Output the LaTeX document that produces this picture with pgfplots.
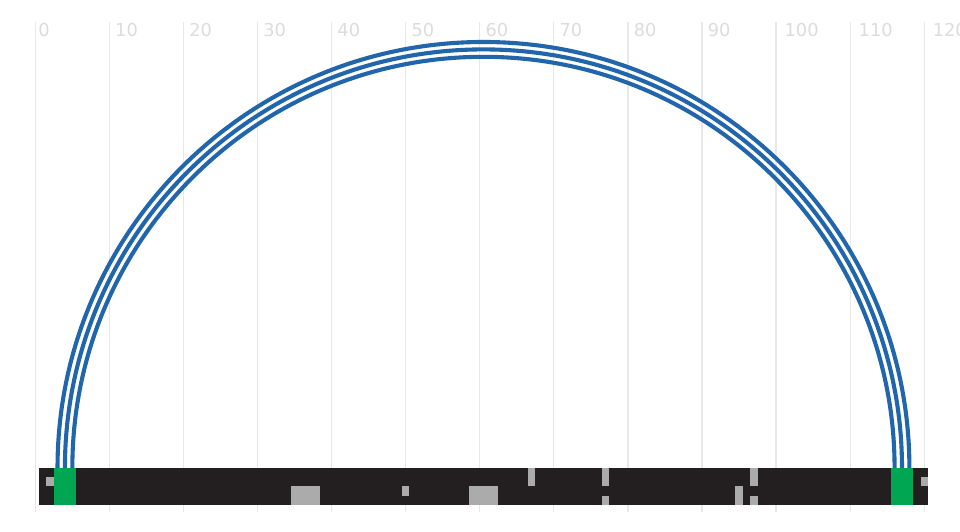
\documentclass[border=0pt]{standalone}
\usepackage{pgfplots}
\pgfplotsset{compat=1.18}
\usepackage{fontspec}
\setmainfont{DejaVu Sans}
\definecolor{arcblue}{RGB}{33,102,172}
\definecolor{cellgreen}{RGB}{0,166,81}
\definecolor{cellblack}{RGB}{35,31,32}
\definecolor{cellgray}{RGB}{171,171,171}
\definecolor{gridc}{RGB}{232,232,232}
\definecolor{labc}{RGB}{220,220,220}
% rectangle cell: x0, x1, y0, y1, colour
\newcommand{\cell}[5]{\addplot[fill=#5, draw=none] coordinates {(#1,#3) (#2,#3) (#2,#4) (#1,#4)} -- cycle;}
\begin{document}
\begin{tikzpicture}
\begin{axis}[
  scale only axis,
  width=480pt, height=244.96pt,
  xmin=-4.765, xmax=124.83,
  ymin=-5.94, ymax=60.2,
  axis line style={draw=none},
  major tick length=0pt,
  xtick={0,10,...,120},
  ytick=\empty,
  xmajorgrids,
  grid style={color=gridc, line width=0.6pt},
  xticklabel pos=upper,
  xticklabel={\setbox0=\hbox{\pgfmathprintnumber{\tick}}\hspace*{0.24\wd0}\box0},
  xticklabel style={anchor=north west, inner sep=0pt, xshift=0pt, yshift=-0.5pt,
    font=\fontsize{8.9}{10}\selectfont, text=labc},
  /pgf/number format/assume math mode=true,
  clip=false,
]
% arcs (start, end) on the track
\draw[arcblue, line width=2.05pt] (axis cs:3,0) arc[start angle=180, end angle=0, radius=57.5];
\draw[arcblue, line width=2.05pt] (axis cs:4,0) arc[start angle=180, end angle=0, radius=56.5];
\draw[arcblue, line width=2.05pt] (axis cs:5,0) arc[start angle=180, end angle=0, radius=55.5];
% track
\cell{0.5}{120.5}{0}{-5}{cellblack}
\cell{1.5}{2.5}{-1.25}{-2.5}{cellgray}
\cell{34.5}{38.5}{-2.5}{-5}{cellgray}
\cell{49.5}{50.5}{-2.5}{-3.75}{cellgray}
\cell{58.5}{62.5}{-2.5}{-5}{cellgray}
\cell{66.5}{67.5}{0}{-2.5}{cellgray}
\cell{76.5}{77.5}{0}{-2.5}{cellgray}
\cell{76.5}{77.5}{-3.75}{-5}{cellgray}
\cell{94.5}{95.5}{-2.5}{-5}{cellgray}
\cell{96.5}{97.5}{0}{-2.5}{cellgray}
\cell{96.5}{97.5}{-3.75}{-5}{cellgray}
\cell{119.5}{120.5}{-1.25}{-2.5}{cellgray}
\cell{2.5}{5.5}{0}{-5}{cellgreen}
\cell{115.5}{118.5}{0}{-5}{cellgreen}
\end{axis}
\pgfresetboundingbox
\path[use as bounding box] ([yshift=-10pt]current axis.south west) rectangle ([yshift=11pt]current axis.north east);
\end{tikzpicture}
\end{document}
